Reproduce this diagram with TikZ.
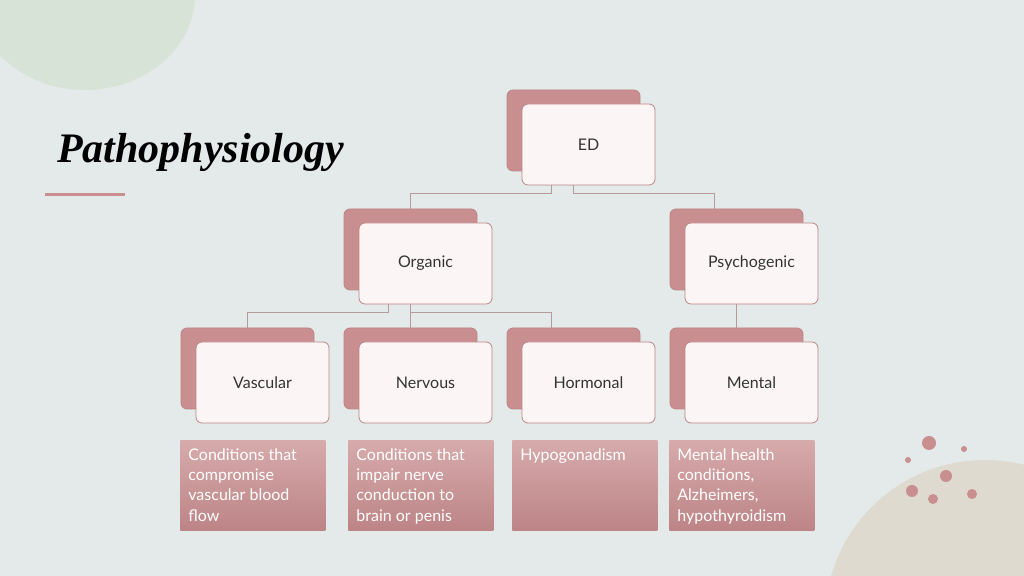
\documentclass[tikz,border=0pt]{standalone}
\usepackage{fontspec}
\setmainfont{Lato}
\newfontfamily\titlefont{Liberation Serif}
\usetikzlibrary{calc}
\definecolor{bgcol}{HTML}{E3EAE9}
\definecolor{rosecol}{HTML}{C98E90}
\definecolor{rosedark}{HTML}{BD8486}
\definecolor{frontcol}{HTML}{FBF6F5}
\definecolor{linecol}{HTML}{B99A9B}
\definecolor{leafcol}{HTML}{D8E3D8}
\definecolor{sandcol}{HTML}{DEDACF}

\tikzset{
	backbox/.style={draw=rosedark,fill=rosecol,rounded corners=3pt,minimum width=66.5pt,minimum height=40.5pt},
	frontbox/.style={draw=rosedark,fill=frontcol,rounded corners=3pt,minimum width=66.5pt,minimum height=40.5pt,font=\fontsize{8}{9}\selectfont,text=black!80},
	notebox/.style={top color=rosecol!75,bottom color=rosedark,draw=none,minimum width=72.5pt,minimum height=45pt,anchor=north west,inner sep=0pt},
	notetext/.style={text width=64pt,align=flush left,anchor=north west,inner sep=0pt,font=\fontsize{8}{10.2}\selectfont,text=white},
	link/.style={draw=linecol,thin}
}
% front box centre given in pixels
\newcommand{\treebox}[4]{%
	\node [backbox] (#1back) at (#2-15,#3-14) {};
	\node [frontbox] (#1) at (#2,#3) {#4};
}
\newcommand{\notepanel}[4]{%
	\node [notebox] (#1) at (#2,#3) {};
	\node [notetext] (#1text) at ($(#1.north west)+(8,8)$) {#4};
}

\begin{document}
\hyphenpenalty=10000
\begin{tikzpicture}[x=0.5pt,y=-0.5pt]
	\fill [bgcol] (0,0) rectangle (1024,576);
	\useasboundingbox (0,0) rectangle (1024,576);
	\begin{scope}
		\clip (0,0) rectangle (1024,576);
		\fill [leafcol] (85,-5) ellipse (110 and 95);
		\fill [sandcol] (985,620) circle (160);
	\end{scope}
	\foreach \px/\py/\r in {929/443/7,964/449/3,908/460/3,946/476/6,912/491/6,933/499/5,972/494/5}
		\fill [rosecol] (\px,\py) circle (\r);

	\node [anchor=west,font=\titlefont\bfseries\itshape\fontsize{21}{24}\selectfont] (title) at (50,152) {Pathophysiology};
	\draw [rosecol,line width=1.5pt] (45,195) -- (125,195);

	\treebox{ed}{588.5}{144.5}{ED}
	\treebox{organic}{425.5}{263.5}{Organic}
	\treebox{psycho}{751.5}{263.5}{Psychogenic}
	\treebox{vascular}{262.5}{382.5}{Vascular}
	\treebox{nervous}{425.5}{382.5}{Nervous}
	\treebox{hormonal}{588.5}{382.5}{Hormonal}
	\treebox{mental}{751.5}{382.5}{Mental}

	% connectors
	\draw [link] ($(ed.south)+(-37,0)$) -- ++(0,8) -| (organicback.north);
	\draw [link] ($(ed.south)+(-15,0)$) -- ++(0,8) -| ($(psychoback.north)+(-22,0)$);
	\draw [link] ($(organic.south)+(-37,0)$) -- ++(0,8) -| (vascularback.north);
	\draw [link] ($(organic.south)+(-15,0)$) -- (nervousback.north);
	\draw [link] ($(organic.south)+(-15,8)$) -| ($(hormonalback.north)+(-22,0)$);
	\draw [link] ($(psycho.south)+(-15,0)$) -- (mentalback.north);

	\notepanel{vascularnote}{180}{440}{Conditions that compromise vascular blood flow}
	\notepanel{nervousnote}{348}{440}{Conditions that impair nerve conduction to brain or penis}
	\notepanel{hormonalnote}{512}{440}{Hypogonadism}
	\notepanel{mentalnote}{669}{440}{Mental health conditions, Alzheimers, hypothyroidism}
\end{tikzpicture}
\end{document}
